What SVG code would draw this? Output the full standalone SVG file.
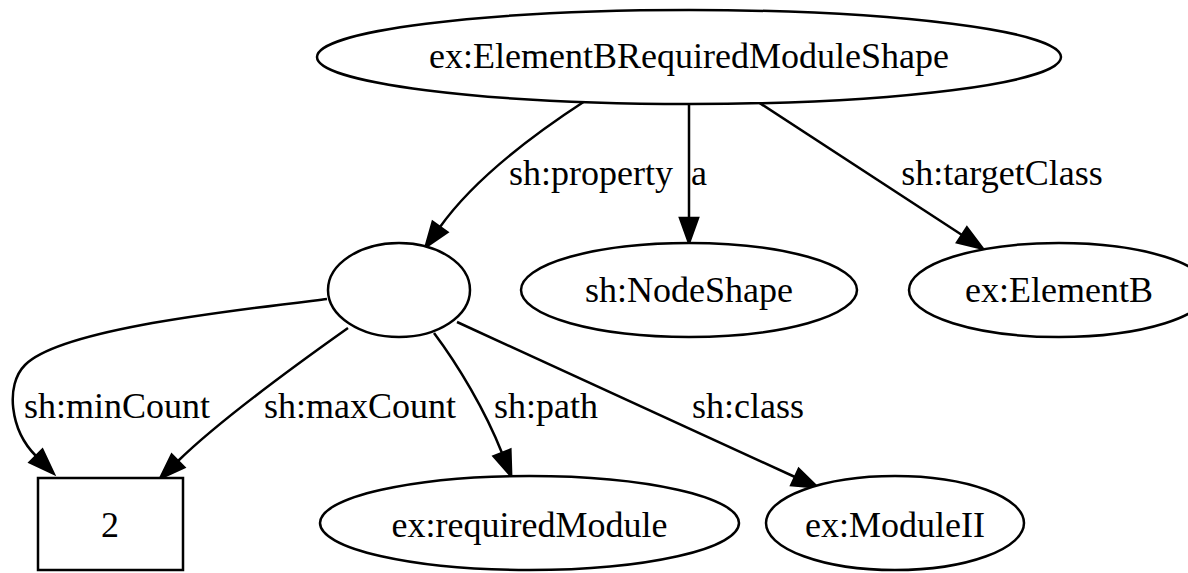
<svg xmlns="http://www.w3.org/2000/svg" width="1188" height="573" viewBox="0 0 1188 573">
<style>
.node ellipse, .node rect { fill: #ffffff; stroke: #000000; stroke-width: 2.5; }
.node text, .lbl { font-family: "Liberation Serif", "Times New Roman", serif; font-size: 36px; fill: #000000; text-anchor: middle; }
.edge path.line { fill: none; stroke: #000000; stroke-width: 2.5; marker-end: url(#arrow); }
</style>
<defs>
<marker id="arrow" markerUnits="userSpaceOnUse" markerWidth="30" markerHeight="22" viewBox="-2 -2 30 22" refX="0" refY="9" orient="auto" overflow="visible">
<polygon points="0,0 25,9 0,18" fill="#000000" stroke="#000000" stroke-width="2.5"/>
</marker>
</defs>
<rect x="0" y="0" width="1188" height="573" fill="#ffffff"/>
<g id="connectors" class="edge">
<path class="line" d="M585,101 C525,140 470,185 440,227"/>
<path class="line" d="M689,103 L689,218"/>
<path class="line" d="M758,102 L962,235"/>
<path class="line" d="M327,299 C220,312 60,330 25,365 C5,385 10,430 36,456"/>
<path class="line" d="M348,328 C300,362 220,420 178,461"/>
<path class="line" d="M434,333 C458,365 485,410 502,453"/>
<path class="line" d="M457,322 L795,477"/>
<text class="lbl" x="591" y="185">sh:property</text>
<text class="lbl" x="699" y="185">a</text>
<text class="lbl" x="1002" y="185">sh:targetClass</text>
<text class="lbl" x="117" y="418">sh:minCount</text>
<text class="lbl" x="360" y="418">sh:maxCount</text>
<text class="lbl" x="546" y="418">sh:path</text>
<text class="lbl" x="748" y="418">sh:class</text>
</g>
<g id="node_shape" class="node">
<ellipse cx="689" cy="57" rx="372" ry="47"/>
<text x="689" y="68">ex:ElementBRequiredModuleShape</text>
</g>
<g id="node_blank" class="node">
<ellipse cx="399" cy="290" rx="71" ry="47"/>
</g>
<g id="node_nodeshape" class="node">
<ellipse cx="689" cy="290" rx="168" ry="47"/>
<text x="689" y="302">sh:NodeShape</text>
</g>
<g id="node_elementb" class="node">
<ellipse cx="1059" cy="290" rx="150" ry="47"/>
<text x="1059" y="302">ex:ElementB</text>
</g>
<g id="node_two" class="node">
<rect x="38" y="478" width="145" height="92"/>
<text x="110" y="537">2</text>
</g>
<g id="node_requiredmodule" class="node">
<ellipse cx="529.5" cy="523" rx="209.5" ry="47"/>
<text x="529.5" y="537">ex:requiredModule</text>
</g>
<g id="node_moduleii" class="node">
<ellipse cx="895" cy="523" rx="129" ry="47"/>
<text x="895" y="537">ex:ModuleII</text>
</g>
</svg>
